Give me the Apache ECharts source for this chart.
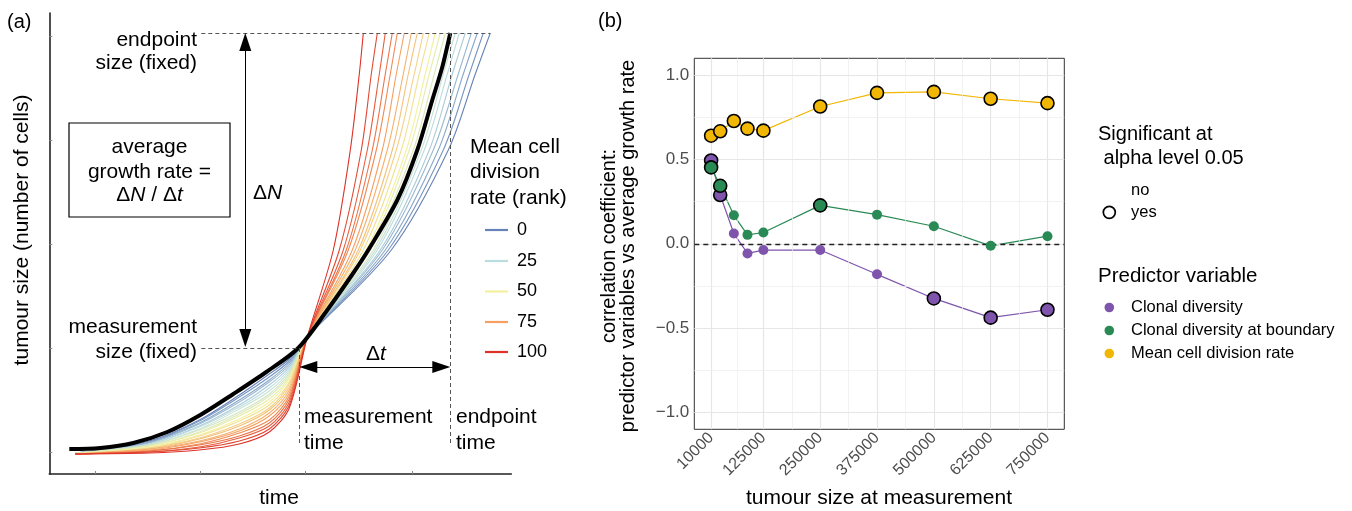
<!DOCTYPE html>
<html><head><meta charset="utf-8">
<script src="https://cdn.jsdelivr.net/npm/echarts@6/dist/echarts.min.js"></script>
<style>html,body{margin:0;padding:0;background:#fff}#c{width:1352px;height:511px}</style>
</head><body><div id="c"></div>
<script>
// ---------------- Panel (a) data (arbitrary time / size units) ----------------
const rankLegend = [0, 25, 50, 75, 100];
const curveRanks = [0,5,10,15,20,25,30,35,40,45,50,55,60,65,70,75,80,85,90,95,100];
const preTimes = [26, 100, 150, 190, 220, 240];
const curvePreSizes = [
  [21,33,54,79,100,115],
  [21,32,53,77,97,113],
  [21,32,51,74,94,111],
  [21,31,50,72,92,109],
  [21,30,48,69,89,107],
  [21,30,47,67,86,105],
  [21,29,45,65,83,103],
  [21,29,44,62,80,101],
  [21,28,42,60,78,99],
  [21,28,41,58,75,97],
  [20,27,39,55,72,95],
  [20,26,38,53,69,92],
  [20,26,36,50,66,90],
  [20,25,35,48,64,87],
  [20,25,33,45,61,84],
  [20,24,32,43,58,81],
  [20,23,30,41,54,78],
  [20,23,29,38,51,75],
  [20,22,27,36,48,72],
  [20,22,26,33,45,69],
  [20,21,24,30,42,66]
];
const meetPoint = [258, 137];
const postSizes = [224, 324, 400, 441];
const curvePostTimes = [
  [342,399,426,441],
  [339,394,420,434],
  [336,389,414,428],
  [333,384,409,422],
  [331,380,403,416],
  [328,375,398,410],
  [326,372,394,406],
  [324,369,390,402],
  [321,364,385,396],
  [319,360,380,391],
  [317,357,376,386],
  [314,352,370,380],
  [311,347,365,374],
  [309,343,359,368],
  [306,338,354,362],
  [303,333,347,355],
  [299,327,341,348],
  [297,323,336,343],
  [294,318,330,336],
  [290,312,322,328],
  [284,301,310,314]
];
const avgTimes = [20, 51, 84, 118, 151, 184, 217, 249, 278, 304, 319, 348, 368, 383, 393, 401];
const avgSizes = [25, 26, 31, 42, 59, 80, 102, 126, 164, 201, 224, 274, 324, 374, 407, 441];
const measurementTime = 250, endpointTime = 401;
const measurementSize = 126, endpointSize = 441;
const timeTicks = [46, 151, 256, 363];
const sizeTicks = [22, 126, 230, 334, 438];

// ---------------- Panel (b) data ----------------
const tumourSizes = [10000, 30000, 60000, 90000, 125000, 250000, 375000, 500000, 625000, 750000];
const xTickLabels = [10000, 125000, 250000, 375000, 500000, 625000, 750000];
const yTickLabels = [-1, -0.5, 0, 0.5, 1];
const clonalDiversity = [0.494, 0.289, 0.061, -0.057, -0.037, -0.037, -0.181, -0.324, -0.438, -0.391];
const clonalDiversitySig = [1,1,0,0,0,0,0,1,1,1];
const boundaryDiversity = [0.453, 0.344, 0.169, 0.053, 0.067, 0.228, 0.173, 0.104, -0.012, 0.045];
const boundaryDiversitySig = [1,1,0,0,0,1,0,0,0,0];
const divisionRate = [0.641, 0.667, 0.728, 0.683, 0.671, 0.814, 0.895, 0.901, 0.860, 0.834];
const divisionRateSig = [1,1,1,1,1,1,1,1,1,1];

// ---------------- styling helpers ----------------
const FONT = '"Liberation Sans", Arial, Helvetica, sans-serif';
const colorStops = [[0,[102,131,184]],[25,[188,221,224]],[50,[243,240,158]],[75,[245,160,96]],[100,[220,50,40]]];
function rankColor(r){
  for(let i=0;i<colorStops.length-1;i++){
    const a=colorStops[i], b=colorStops[i+1];
    if(r>=a[0] && r<=b[0]){
      const f=(r-a[0])/(b[0]-a[0]);
      const c=a[1].map((v,k)=>Math.round(v+(b[1][k]-v)*f));
      return 'rgb('+c.join(',')+')';
    }
  }
  return '#000';
}
const PURPLE='#7e54ad', GREEN='#2a8a55', YELLOW='#f2b705';

function txt(text, x, y, o){
  o = o || {};
  return {type:'text', x:x, y:y, rotation:o.rot||0, silent:true, z:20,
    style:{text:text, fontFamily:FONT, fontSize:o.size||21, fontStyle:o.italic?'italic':'normal',
      fill:o.color||'#000', align:o.align||'left', verticalAlign:'middle', lineHeight:o.lh||undefined,
      rich:o.rich||undefined}};
}
const italicRich = {i:{fontStyle:'italic', fontFamily:FONT, fontSize:21, fill:'#000'}};

// ---------------- series ----------------
const series = [];
curveRanks.forEach((r,i)=>{
  const pts = preTimes.map((t,j)=>[t, curvePreSizes[i][j]]);
  pts.push(meetPoint);
  postSizes.forEach((n,j)=>pts.push([curvePostTimes[i][j], n]));
  series.push({type:'line', xAxisIndex:0, yAxisIndex:0, data:pts, smooth:0.3,
    showSymbol:false, silent:true, z:2, lineStyle:{width:1.1, color:rankColor(r)}});
});
series.push({type:'line', xAxisIndex:0, yAxisIndex:0, data:avgTimes.map((t,i)=>[t,avgSizes[i]]),
  smooth:0.3, showSymbol:false, silent:true, z:4, lineStyle:{width:4, color:'#000'}});
// dashed guides
series.push({type:'line', xAxisIndex:0, yAxisIndex:0, data:[], silent:true, z:3,
  markLine:{silent:true, symbol:['none','none'], label:{show:false}, animation:false,
    lineStyle:{type:[4,3], color:'#555', width:1},
    data:[
      [{coord:[152,endpointSize]},{coord:[441,endpointSize]}],
      [{coord:[152,measurementSize]},{coord:[measurementTime,measurementSize]}],
      [{coord:[measurementTime,measurementSize]},{coord:[measurementTime,29]}],
      [{coord:[endpointTime,endpointSize]},{coord:[endpointTime,29]}]
    ]}});
// arrows
series.push({type:'line', xAxisIndex:0, yAxisIndex:0, data:[], silent:true, z:5,
  markLine:{silent:true, symbol:['triangle','triangle'], symbolSize:[12,18], label:{show:false}, animation:false,
    lineStyle:{type:'solid', color:'#000', width:1},
    itemStyle:{color:'#000'},
    data:[
      [{coord:[196,endpointSize-9]},{coord:[196,measurementSize+10]}],
      [{coord:[measurementTime+9,107]},{coord:[endpointTime-9,107]}]
    ]}});

// panel (b) grid lines
const xMinor=[], yMinor=[];
for(let i=0;i<xTickLabels.length-1;i++) xMinor.push((xTickLabels[i]+xTickLabels[i+1])/2);
for(let i=0;i<yTickLabels.length-1;i++) yMinor.push((yTickLabels[i]+yTickLabels[i+1])/2);
const XMIN=-27000, XMAX=787000, YMIN=-1.1, YMAX=1.1;
const gl=[];
xTickLabels.forEach(v=>gl.push([{coord:[v,YMIN],lineStyle:{width:1.2,color:'#e6e6e6',type:'solid'}},{coord:[v,YMAX]}]));
xMinor.forEach(v=>gl.push([{coord:[v,YMIN],lineStyle:{width:0.7,color:'#ececec',type:'solid'}},{coord:[v,YMAX]}]));
yTickLabels.forEach(v=>gl.push([{coord:[XMIN,v],lineStyle:{width:1.2,color:'#e6e6e6',type:'solid'}},{coord:[XMAX,v]}]));
yMinor.forEach(v=>gl.push([{coord:[XMIN,v],lineStyle:{width:0.7,color:'#ececec',type:'solid'}},{coord:[XMAX,v]}]));
series.push({type:'line', xAxisIndex:1, yAxisIndex:1, data:[], silent:true, z:1,
  markLine:{silent:true, symbol:['none','none'], label:{show:false}, animation:false, data:gl}});
series.push({type:'line', xAxisIndex:1, yAxisIndex:1, data:[], silent:true, z:2,
  markLine:{silent:true, symbol:['none','none'], label:{show:false}, animation:false,
    lineStyle:{type:[5,4], color:'#222', width:1.4},
    data:[[{coord:[XMIN,0]},{coord:[XMAX,0]}]]}});

const predictors = [
  ['Clonal diversity', clonalDiversity, clonalDiversitySig, PURPLE],
  ['Clonal diversity at boundary', boundaryDiversity, boundaryDiversitySig, GREEN],
  ['Mean cell division rate', divisionRate, divisionRateSig, YELLOW]
];
predictors.forEach((s,k)=>{
  series.push({type:'line', name:s[0], xAxisIndex:1, yAxisIndex:1,
    data:tumourSizes.map((x,i)=>[x,s[1][i]]), showSymbol:false, silent:true, z:3,
    lineStyle:{width:1.2, color:s[3]}});
});
predictors.forEach((s,k)=>{
  series.push({type:'scatter', name:s[0]+' points', xAxisIndex:1, yAxisIndex:1, silent:true, z:6+k,
    symbol:'circle',
    data:tumourSizes.map((x,i)=> s[2][i]
      ? {value:[x,s[1][i]], symbolSize:13, itemStyle:{color:s[3], borderColor:'#000', borderWidth:1.6, opacity:1}}
      : {value:[x,s[1][i]], symbolSize:10, itemStyle:{color:s[3], borderWidth:0, opacity:1}})});
});

// ---------------- graphics (annotations & legends) ----------------
const g = [];
// panel (a)
g.push(txt('(a)', 7, 22, {size:20}));
g.push(txt('endpoint', 197, 40, {align:'right'}));
g.push(txt('size (fixed)', 197, 63, {align:'right'}));
g.push({type:'rect', shape:{x:69,y:123,width:161,height:94}, style:{fill:'none', stroke:'#000', lineWidth:1.2}, z:20, silent:true});
g.push(txt('average', 149.5, 147, {align:'center'}));
g.push(txt('growth rate =', 149.5, 172, {align:'center'}));
g.push(txt('Δ{i|N} / Δ{i|t}', 149.5, 195, {align:'center', rich:italicRich}));
g.push(txt('Δ{i|N}', 253, 193, {rich:italicRich}));
g.push(txt('measurement', 197, 327, {align:'right'}));
g.push(txt('size (fixed)', 197, 352, {align:'right'}));
g.push(txt('Δ{i|t}', 376, 354, {align:'center', rich:italicRich}));
g.push(txt('measurement', 304, 417));
g.push(txt('time', 304, 443));
g.push(txt('endpoint', 456, 417));
g.push(txt('time', 456, 443));
g.push(txt('time', 279, 498, {align:'center'}));
g.push(txt('tumour size (number of cells)', 22, 230, {align:'center', rot:Math.PI/2}));
g.push(txt('Mean cell', 470, 147));
g.push(txt('division', 470, 172));
g.push(txt('rate (rank)', 470, 198));
const legY = [230, 261, 291.5, 322, 352];
rankLegend.forEach((r,i)=>{
  g.push({type:'line', shape:{x1:485,y1:legY[i],x2:508,y2:legY[i]}, style:{stroke:rankColor(r), lineWidth:2.2}, z:20, silent:true});
  g.push(txt(String(r), 517, legY[i], {size:18}));
});
// panel (b)
g.push(txt('(b)', 598, 21, {size:20}));
g.push(txt('correlation coefficient:\npredictor variables vs average growth rate', 619, 246, {align:'center', rot:Math.PI/2, size:20, lh:19}));
g.push(txt('tumour size at measurement', 879, 498, {align:'center', size:21}));
g.push(txt('Significant at', 1098, 134, {size:20}));
g.push(txt(' alpha level 0.05', 1098, 158, {size:20}));
g.push(txt('no', 1131, 190, {size:16.5}));
g.push({type:'circle', shape:{cx:1109.3, cy:212.3, r:6}, style:{fill:'#fff', stroke:'#000', lineWidth:1.7}, z:20, silent:true});
g.push(txt('yes', 1131, 212.5, {size:16.5}));
g.push(txt('Predictor variable', 1098, 276, {size:20.5}));
[['Clonal diversity',PURPLE,307.5],['Clonal diversity at boundary',GREEN,330.5],['Mean cell division rate',YELLOW,353.5]].forEach(it=>{
  g.push({type:'circle', shape:{cx:1109.3, cy:it[2], r:4.8}, style:{fill:it[1]}, z:20, silent:true});
  g.push(txt(it[0], 1131, it[2], {size:16.5}));
});

const option = {
  animation:false,
  backgroundColor:'#fff',
  textStyle:{fontFamily:FONT},
  grid:[
    {left:49.3, top:13, width:462, height:461, show:false},
    {left:694.3, top:58.3, width:370, height:371, show:true, borderColor:'#333', borderWidth:1, backgroundColor:'transparent'}
  ],
  xAxis:[
    {type:'value', gridIndex:0, min:0, max:462, axisLine:{show:true, onZero:false, lineStyle:{color:'#222', width:1.6}},
      axisTick:{show:true, inside:true, length:3, customValues:timeTicks, lineStyle:{color:'#888'}},
      axisLabel:{show:false}, splitLine:{show:false}},
    {type:'value', gridIndex:1, min:XMIN, max:XMAX, axisLine:{show:false},
      axisTick:{show:true, length:4, customValues:xTickLabels, lineStyle:{color:'#333', width:1}},
      axisLabel:{show:true, customValues:xTickLabels, rotate:45, margin:6, fontSize:16, color:'#4d4d4d', fontFamily:FONT,
        formatter:v=>String(v)},
      splitLine:{show:false}}
  ],
  yAxis:[
    {type:'value', gridIndex:0, min:0, max:461, axisLine:{show:true, onZero:false, lineStyle:{color:'#222', width:1.6}},
      axisTick:{show:true, inside:true, length:3, customValues:sizeTicks, lineStyle:{color:'#888'}},
      axisLabel:{show:false}, splitLine:{show:false}},
    {type:'value', gridIndex:1, min:YMIN, max:YMAX, axisLine:{show:false},
      axisTick:{show:true, length:4, customValues:yTickLabels, lineStyle:{color:'#333', width:1}},
      axisLabel:{show:true, customValues:yTickLabels, margin:5, fontSize:17, color:'#4d4d4d', fontFamily:FONT,
        formatter:v=>(v<0?'\u2212':'')+Math.abs(v).toFixed(1)},
      splitLine:{show:false}}
  ],
  series:series,
  graphic:g
};
const chart = echarts.init(document.getElementById('c'), null, {renderer:'canvas'});
chart.setOption(option);
</script></body></html>
